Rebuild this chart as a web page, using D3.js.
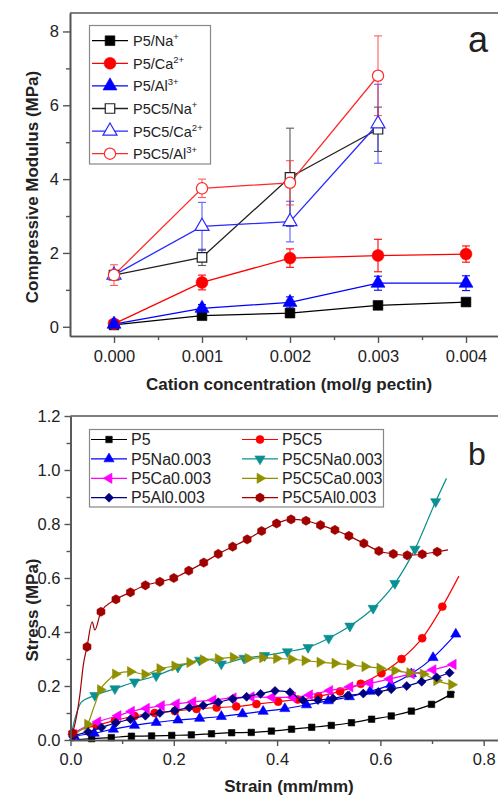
<!DOCTYPE html>
<html>
<head>
<meta charset="utf-8">
<script src="https://cdn.jsdelivr.net/npm/d3@7"></script>
<style>
  body { margin: 0; background: #fff; }
  svg { display: block; font-family: "Liberation Sans", Arial, sans-serif; }
</style>
</head>
<body>
<script>
// ---- panel a: compressive modulus vs cation concentration ----
const conc = [0, 0.001, 0.002, 0.003, 0.004];
const concTicks = [0, 0.001, 0.002, 0.003, 0.004];
const concMinor = [0.0005, 0.0015, 0.0025, 0.0035];
const modTicks = [0, 2, 4, 6, 8];
const modMinor = [1, 3, 5, 7];

const p5Na = [0.05, 0.30, 0.37, 0.58, 0.67];
const p5NaErr = [0.03, 0.05, 0.05, 0.05, 0.05];
const p5Ca = [0.08, 1.20, 1.86, 1.93, 1.97];
const p5CaErr = [0.04, 0.20, 0.25, 0.44, 0.22];
const p5Al = [0.07, 0.50, 0.66, 1.18, 1.18];
const p5AlErr = [0.04, 0.10, 0.15, 0.19, 0.20];
const p5c5Na = [1.40, 1.88, 4.05, 5.35];
const p5c5NaErr = [0.10, 0.22, 1.33, 0.60];
const p5c5Ca = [1.40, 2.72, 2.85, 5.50];
const p5c5CaErr = [0.10, 0.65, 0.55, 1.07];
const p5c5Al = [1.40, 3.75, 3.90, 6.80];
const p5c5AlErr = [0.28, 0.25, 0.60, 1.08];

// ---- panel b: stress-strain curves, [strain, stress] (third value 0 = no marker) ----
const strainTicks = [0, 0.2, 0.4, 0.6, 0.8];
const strainMinor = [0.1, 0.3, 0.5, 0.7];
const stressTicks = [0, 0.2, 0.4, 0.6, 0.8, 1.0, 1.2];
const stressMinor = [0.1, 0.3, 0.5, 0.7, 0.9, 1.1];

const sP5 = [[0,0,0],[0.041,0.005],[0.079,0.009],[0.118,0.014],[0.157,0.015],[0.196,0.017],[0.234,0.019],[0.273,0.023],[0.312,0.027],[0.35,0.028],[0.389,0.033],[0.428,0.04],[0.467,0.047],[0.505,0.054],[0.544,0.064],[0.583,0.077],[0.621,0.089],[0.66,0.107],[0.699,0.132],[0.736,0.169],[0.744,0.178,0]];
const sP5C5 = [[0,0,0],[0.005,0.025],[0.05,0.054],[0.086,0.072],[0.124,0.089],[0.163,0.1],[0.202,0.107],[0.244,0.115],[0.283,0.12],[0.321,0.124],[0.36,0.133],[0.402,0.142],[0.44,0.15],[0.48,0.162],[0.522,0.18],[0.562,0.208],[0.602,0.247],[0.641,0.3],[0.681,0.377],[0.72,0.494],[0.752,0.607,0]];
const sP5Na = [[0,0,0],[0.008,0.012],[0.046,0.025],[0.083,0.04],[0.124,0.054],[0.166,0.065],[0.208,0.074],[0.25,0.08],[0.292,0.087],[0.333,0.097],[0.373,0.106],[0.415,0.116],[0.457,0.13],[0.499,0.145],[0.54,0.16],[0.58,0.18],[0.62,0.205],[0.66,0.245],[0.702,0.305],[0.746,0.392]];
const sP5C5Na = [[0,0,0],[0.006,0.06,0],[0.012,0.1,0],[0.021,0.14,0],[0.047,0.165],[0.086,0.19],[0.124,0.215],[0.166,0.238],[0.208,0.27],[0.25,0.296],[0.27,0.298,0],[0.292,0.282],[0.336,0.303],[0.376,0.313],[0.42,0.327],[0.46,0.343],[0.5,0.377],[0.541,0.422],[0.586,0.488],[0.628,0.58],[0.667,0.707],[0.707,0.883],[0.728,0.969,0]];
const sP5Ca = [[0,0,0],[0.006,0.02],[0.053,0.067],[0.092,0.09],[0.118,0.106],[0.147,0.117],[0.176,0.127],[0.205,0.134],[0.237,0.141],[0.276,0.148],[0.315,0.156],[0.35,0.16],[0.39,0.158],[0.43,0.158],[0.463,0.167],[0.502,0.183],[0.541,0.197],[0.58,0.21],[0.618,0.226],[0.66,0.245],[0.702,0.26],[0.741,0.28]];
const sP5C5Ca = [[0,0,0],[0.015,0.03,0],[0.033,0.058],[0.045,0.12,0],[0.058,0.186],[0.075,0.225,0],[0.087,0.244],[0.116,0.253],[0.144,0.243],[0.173,0.264],[0.202,0.274],[0.231,0.287],[0.257,0.297],[0.286,0.301],[0.315,0.306],[0.344,0.302],[0.372,0.305],[0.399,0.302],[0.428,0.299],[0.454,0.294],[0.483,0.288],[0.512,0.284],[0.541,0.278],[0.57,0.272],[0.599,0.266],[0.628,0.257],[0.657,0.249],[0.683,0.244],[0.709,0.22],[0.738,0.205]];
const sP5Al = [[0,0,0],[0.005,0.012],[0.034,0.03],[0.06,0.046],[0.088,0.064],[0.116,0.077],[0.145,0.09],[0.173,0.1],[0.202,0.109],[0.23,0.12],[0.257,0.128],[0.286,0.14],[0.314,0.152],[0.341,0.16],[0.368,0.171],[0.396,0.182],[0.425,0.177],[0.45,0.147],[0.479,0.148],[0.508,0.154],[0.537,0.165],[0.567,0.172],[0.596,0.178],[0.621,0.188],[0.651,0.2],[0.68,0.216],[0.709,0.232],[0.734,0.249]];
const sP5C5Al = [[0,0,0],[0.004,0.025],[0.012,0.09,0],[0.018,0.165,0],[0.025,0.28,0],[0.032,0.345],[0.042,0.438,0],[0.047,0.407,0],[0.059,0.475],[0.088,0.521],[0.116,0.547],[0.145,0.573],[0.173,0.586],[0.2,0.6],[0.229,0.627],[0.258,0.657],[0.286,0.689],[0.314,0.716],[0.342,0.743],[0.37,0.774],[0.399,0.802],[0.427,0.817],[0.456,0.812],[0.484,0.796],[0.512,0.778],[0.539,0.756],[0.568,0.728],[0.597,0.7],[0.625,0.689],[0.652,0.684],[0.681,0.688],[0.71,0.697],[0.731,0.704,0]];

const axisColor = "#555";
const textColor = "#222";

const svg = d3.select("body").append("svg")
    .attr("width", 498)
    .attr("height", 796);

// custom hexagon symbol
const symbolHex = {
  draw(ctx, size) {
    const r = Math.sqrt(size / 2.6);
    for (let i = 0; i < 6; i++) {
      const a = Math.PI / 6 + i * Math.PI / 3;
      if (i === 0) ctx.moveTo(r * Math.cos(a), r * Math.sin(a));
      else ctx.lineTo(r * Math.cos(a), r * Math.sin(a));
    }
    ctx.closePath();
  }
};

function drawMarker(g, type, size, rot, x, y, fill, stroke) {
  g.append("path")
      .attr("d", d3.symbol().type(type).size(size)())
      .attr("transform", "translate(" + x + "," + y + ") rotate(" + rot + ")")
      .attr("fill", fill)
      .attr("stroke", stroke)
      .attr("stroke-width", fill === "#fff" ? 1.2 : 0.6);
}

function styleAxis(g, fs) {
  g.select(".domain").attr("stroke", axisColor).attr("stroke-width", 1.6);
  g.selectAll(".tick line").attr("stroke", axisColor).attr("stroke-width", 1.4);
  g.selectAll(".tick text").attr("fill", textColor).attr("font-size", fs)
      .attr("font-family", "Liberation Sans, Arial, sans-serif");
}

// ================= panel a =================
const xA = d3.scaleLinear().domain([-0.0005, 0.0045]).range([70, 510]);
const yA = d3.scaleLinear().domain([-0.25, 8.5]).range([336, 13]);

const gA = svg.append("g");

gA.append("line")
    .attr("x1", xA.range()[0]).attr("x2", 498)
    .attr("y1", yA.range()[1]).attr("y2", yA.range()[1])
    .attr("stroke", axisColor).attr("stroke-width", 1.6);

const axA_x = gA.append("g")
    .attr("transform", "translate(0," + yA.range()[0] + ")")
    .call(d3.axisBottom(xA).tickValues(concTicks).tickFormat(d3.format(".3f"))
      .tickSize(7).tickSizeOuter(0).tickPadding(7));
styleAxis(axA_x, 16.5);
const axA_xm = gA.append("g")
    .attr("transform", "translate(0," + yA.range()[0] + ")")
    .call(d3.axisBottom(xA).tickValues(concMinor).tickFormat("").tickSize(4).tickSizeOuter(0));
styleAxis(axA_xm, 16.5);

const axA_y = gA.append("g")
    .attr("transform", "translate(" + xA.range()[0] + ",0)")
    .call(d3.axisLeft(yA).tickValues(modTicks).tickFormat(d3.format("d"))
      .tickSize(7).tickSizeOuter(0).tickPadding(4));
styleAxis(axA_y, 16.5);
const axA_ym = gA.append("g")
    .attr("transform", "translate(" + xA.range()[0] + ",0)")
    .call(d3.axisLeft(yA).tickValues(modMinor).tickFormat("").tickSize(4).tickSizeOuter(0));
styleAxis(axA_ym, 16.5);

const seriesA = [
  {vals: p5c5Na, err: p5c5NaErr, color: "#222", type: d3.symbolSquare, size: 90, rot: 0, open: true},
  {vals: p5c5Ca, err: p5c5CaErr, color: "#2a2aff", type: d3.symbolTriangle, size: 85, rot: 0, open: true},
  {vals: p5c5Al, err: p5c5AlErr, color: "#ff2a2a", type: d3.symbolCircle, size: 100, rot: 0, open: true},
  {vals: p5Na, err: p5NaErr, color: "#000", type: d3.symbolSquare, size: 95, rot: 0, open: false},
  {vals: p5Ca, err: p5CaErr, color: "#ff0000", type: d3.symbolCircle, size: 110, rot: 0, open: false},
  {vals: p5Al, err: p5AlErr, color: "#0000ff", type: d3.symbolTriangle, size: 85, rot: 0, open: false}
];

const lineA = d3.line()
    .x((d, i) => xA(conc[i]))
    .y(d => yA(d));

seriesA.forEach(s => {
  gA.append("path")
      .attr("d", lineA(s.vals))
      .attr("fill", "none")
      .attr("stroke", s.color)
      .attr("stroke-width", 1.3);
});

seriesA.forEach(s => {
  const eg = gA.append("g").attr("stroke", s.color).attr("stroke-width", 1.1)
      .attr("opacity", s.open ? 0.75 : 1);
  s.vals.forEach((v, i) => {
    const x = xA(conc[i]), y1 = yA(v - s.err[i]), y2 = yA(v + s.err[i]);
    eg.append("line").attr("x1", x).attr("x2", x).attr("y1", y1).attr("y2", y2);
    eg.append("line").attr("x1", x - 4).attr("x2", x + 4).attr("y1", y1).attr("y2", y1);
    eg.append("line").attr("x1", x - 4).attr("x2", x + 4).attr("y1", y2).attr("y2", y2);
  });
});

seriesA.forEach(s => {
  s.vals.forEach((v, i) => {
    drawMarker(gA, s.type, s.size, s.rot, xA(conc[i]), yA(v),
      s.open ? "#fff" : s.color, s.color);
  });
});

// legend a
const legendA = [
  {name: "P5/Na", sup: "+", s: seriesA[3]},
  {name: "P5/Ca", sup: "2+", s: seriesA[4]},
  {name: "P5/Al", sup: "3+", s: seriesA[5]},
  {name: "P5C5/Na", sup: "+", s: seriesA[0]},
  {name: "P5C5/Ca", sup: "2+", s: seriesA[1]},
  {name: "P5C5/Al", sup: "3+", s: seriesA[2]}
];
const lgA = gA.append("g");
lgA.append("rect").attr("x", 89.5).attr("y", 25.5).attr("width", 121).attr("height", 138.5)
    .attr("fill", "#fff").attr("stroke", "#888").attr("stroke-width", 1.2);
legendA.forEach((d, i) => {
  const y = 40.7 + i * 22.6;
  lgA.append("line").attr("x1", 92).attr("x2", 128).attr("y1", y).attr("y2", y)
      .attr("stroke", d.s.color).attr("stroke-width", 1.3);
  drawMarker(lgA, d.s.type, d.s.size, 0, 110, y, d.s.open ? "#fff" : d.s.color, d.s.color);
  const t = lgA.append("text").attr("x", 133).attr("y", y + 5.5)
      .attr("font-size", 14.5).attr("fill", textColor).text(d.name);
  t.append("tspan").attr("dy", -6).attr("font-size", 9.5).text(d.sup);
});

gA.append("text")
    .attr("x", 289).attr("y", 390)
    .attr("text-anchor", "middle").attr("font-weight", "bold").attr("font-size", 17)
    .attr("fill", textColor)
    .text("Cation concentration (mol/g pectin)");

gA.append("text")
    .attr("transform", "translate(38,187) rotate(-90)")
    .attr("text-anchor", "middle").attr("font-weight", "bold").attr("font-size", 17)
    .attr("fill", textColor)
    .text("Compressive Modulus (MPa)");

gA.append("text")
    .attr("x", 468).attr("y", 52)
    .attr("font-size", 36).attr("fill", textColor).text("a");

// ================= panel b =================
const xB = d3.scaleLinear().domain([0, 0.85]).range([70.5, 509.5]);
const yB = d3.scaleLinear().domain([0, 1.2]).range([740, 416]);

const gB = svg.append("g");

gB.append("line")
    .attr("x1", xB.range()[0]).attr("x2", 498)
    .attr("y1", yB.range()[1]).attr("y2", yB.range()[1])
    .attr("stroke", axisColor).attr("stroke-width", 1.6);

const seriesB = [
  {name: "P5", pts: sP5, color: "#000", type: d3.symbolSquare, size: 42, rot: 0},
  {name: "P5C5", pts: sP5C5, color: "#ff0000", type: d3.symbolCircle, size: 50, rot: 0},
  {name: "P5Na0.003", pts: sP5Na, color: "#0000ff", type: d3.symbolTriangle, size: 45, rot: 0},
  {name: "P5C5Na0.003", pts: sP5C5Na, color: "#0a9090", type: d3.symbolTriangle, size: 45, rot: 180},
  {name: "P5Ca0.003", pts: sP5Ca, color: "#ff00ff", type: d3.symbolTriangle, size: 45, rot: -90},
  {name: "P5C5Ca0.003", pts: sP5C5Ca, color: "#8f8f00", type: d3.symbolTriangle, size: 45, rot: 90},
  {name: "P5Al0.003", pts: sP5Al, color: "#000080", type: d3.symbolSquare, size: 40, rot: 45},
  {name: "P5C5Al0.003", pts: sP5C5Al, color: "#a00000", type: symbolHex, size: 55, rot: 0}
];

const lineB = d3.line()
    .x(d => xB(d[0]))
    .y(d => yB(d[1]))
    .curve(d3.curveMonotoneX);

seriesB.forEach(s => {
  gB.append("path")
      .attr("d", lineB(s.pts))
      .attr("fill", "none")
      .attr("stroke", s.color)
      .attr("stroke-width", 1.2);
  s.pts.filter(d => d[2] !== 0).forEach(d => {
    drawMarker(gB, s.type, s.size, s.rot, xB(d[0]), yB(d[1]), s.color, s.color);
  });
});

const axB_x = gB.append("g")
    .attr("transform", "translate(0," + yB.range()[0] + ")")
    .call(d3.axisBottom(xB).tickValues(strainTicks).tickFormat(d3.format(".1f"))
      .tickSize(6).tickSizeOuter(0).tickPadding(7));
styleAxis(axB_x, 16.5);
const axB_xm = gB.append("g")
    .attr("transform", "translate(0," + yB.range()[0] + ")")
    .call(d3.axisBottom(xB).tickValues(strainMinor).tickFormat("").tickSize(4).tickSizeOuter(0));
styleAxis(axB_xm, 16.5);

const axB_y = gB.append("g")
    .attr("transform", "translate(" + xB.range()[0] + ",0)")
    .call(d3.axisLeft(yB).tickValues(stressTicks).tickFormat(d3.format(".1f"))
      .tickSize(6).tickSizeOuter(0).tickPadding(4));
styleAxis(axB_y, 16.5);
const axB_ym = gB.append("g")
    .attr("transform", "translate(" + xB.range()[0] + ",0)")
    .call(d3.axisLeft(yB).tickValues(stressMinor).tickFormat("").tickSize(4).tickSizeOuter(0));
styleAxis(axB_ym, 16.5);

// legend b
const lgB = gB.append("g");
lgB.append("rect").attr("x", 89.5).attr("y", 429.5).attr("width", 294).attr("height", 77.5)
    .attr("fill", "#fff").attr("stroke", "#888").attr("stroke-width", 1.2);
seriesB.forEach((s, i) => {
  const col = i % 2, row = Math.floor(i / 2);
  const y = 439.5 + row * 19.4;
  const x0 = col === 0 ? 91 : 242;
  lgB.append("line").attr("x1", x0).attr("x2", x0 + 36).attr("y1", y).attr("y2", y)
      .attr("stroke", s.color).attr("stroke-width", 1.2);
  drawMarker(lgB, s.type, s.size, s.rot, x0 + 18, y, s.color, s.color);
  lgB.append("text").attr("x", x0 + 40).attr("y", y + 5.6)
      .attr("font-size", 16).attr("fill", textColor).text(s.name);
});

gB.append("text")
    .attr("x", 289).attr("y", 792)
    .attr("text-anchor", "middle").attr("font-weight", "bold").attr("font-size", 17)
    .attr("fill", textColor)
    .text("Strain (mm/mm)");

gB.append("text")
    .attr("transform", "translate(38,610) rotate(-90)")
    .attr("text-anchor", "middle").attr("font-weight", "bold").attr("font-size", 17)
    .attr("fill", textColor)
    .text("Stress (MPa)");

gB.append("text")
    .attr("x", 468).attr("y", 465)
    .attr("font-size", 32).attr("fill", textColor).text("b");
</script>
</body>
</html>
